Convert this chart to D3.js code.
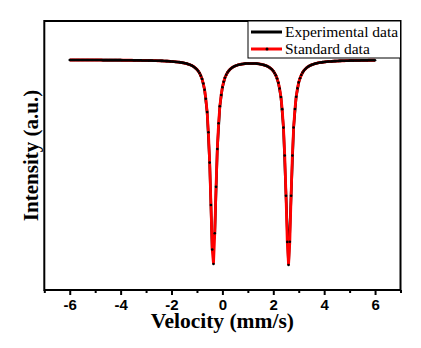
<!DOCTYPE html>
<html>
<head>
<meta charset="utf-8">
<script src="https://cdn.jsdelivr.net/npm/d3@7"></script>
<style>
  body { margin: 0; background: #fff; }
  svg { display: block; }
</style>
</head>
<body>
<div id="chart"></div>
<script>
// tick labels and legend names
const majorTicks = [-6, -4, -2, 0, 2, 4, 6]
const minorTicks = [-7, -5, -3, -1, 1, 3, 5, 7]
const seriesNames = ['Experimental data', 'Standard data']

// standard data: channels every 0.05 mm/s from -6 to 6
const standardVelocity = d3.range(241).map(i => -6 + i * 0.05)
const standardIntensity = [
  0.9998, 0.9998, 0.9998, 0.9998, 0.9998, 0.9998, 0.9998, 0.9998, 0.9998, 0.9998,
  0.9998, 0.9998, 0.9998, 0.9998, 0.9998, 0.9998, 0.9998, 0.9998, 0.9998, 0.9998,
  0.9998, 0.9998, 0.9998, 0.9998, 0.9998, 0.9998, 0.9997, 0.9997, 0.9997, 0.9997,
  0.9997, 0.9997, 0.9997, 0.9997, 0.9997, 0.9997, 0.9997, 0.9997, 0.9997, 0.9997,
  0.9997, 0.9996, 0.9996, 0.9996, 0.9996, 0.9996, 0.9996, 0.9996, 0.9996, 0.9996,
  0.9995, 0.9995, 0.9995, 0.9995, 0.9995, 0.9995, 0.9995, 0.9994, 0.9994, 0.9994,
  0.9994, 0.9994, 0.9993, 0.9993, 0.9993, 0.9993, 0.9992, 0.9992, 0.9992, 0.9991,
  0.9991, 0.9991, 0.9990, 0.9990, 0.9989, 0.9989, 0.9988, 0.9988, 0.9987, 0.9986,
  0.9985, 0.9984, 0.9983, 0.9982, 0.9981, 0.9980, 0.9979, 0.9977, 0.9975, 0.9973,
  0.9971, 0.9969, 0.9966, 0.9962, 0.9959, 0.9954, 0.9949, 0.9943, 0.9935, 0.9926,
  0.9915, 0.9901, 0.9884, 0.9861, 0.9832, 0.9791, 0.9736, 0.9657, 0.9540, 0.9363,
  0.9096, 0.8723, 0.8332, 0.8205, 0.8475, 0.8883, 0.9215, 0.9442, 0.9591, 0.9690,
  0.9758, 0.9807, 0.9842, 0.9868, 0.9888, 0.9904, 0.9916, 0.9926, 0.9934, 0.9940,
  0.9946, 0.9950, 0.9954, 0.9957, 0.9959, 0.9962, 0.9963, 0.9965, 0.9966, 0.9967,
  0.9967, 0.9968, 0.9968, 0.9968, 0.9968, 0.9967, 0.9967, 0.9966, 0.9965, 0.9963,
  0.9961, 0.9959, 0.9956, 0.9953, 0.9949, 0.9945, 0.9939, 0.9932, 0.9924, 0.9914,
  0.9901, 0.9884, 0.9863, 0.9836, 0.9798, 0.9747, 0.9673, 0.9566, 0.9404, 0.9158,
  0.8804, 0.8399, 0.8196, 0.8400, 0.8804, 0.9158, 0.9405, 0.9567, 0.9675, 0.9749,
  0.9801, 0.9838, 0.9866, 0.9888, 0.9904, 0.9917, 0.9928, 0.9937, 0.9944, 0.9950,
  0.9955, 0.9959, 0.9963, 0.9966, 0.9969, 0.9972, 0.9974, 0.9976, 0.9977, 0.9979,
  0.9980, 0.9982, 0.9983, 0.9984, 0.9985, 0.9985, 0.9986, 0.9987, 0.9988, 0.9988,
  0.9989, 0.9989, 0.9990, 0.9990, 0.9991, 0.9991, 0.9991, 0.9992, 0.9992, 0.9992,
  0.9993, 0.9993, 0.9993, 0.9993, 0.9994, 0.9994, 0.9994, 0.9994, 0.9994, 0.9995,
  0.9995, 0.9995, 0.9995, 0.9995, 0.9995, 0.9996, 0.9996, 0.9996, 0.9996, 0.9996,
  0.9996
]

// experimental data: channels every 0.1 mm/s from -6 to 6
const experimentalVelocity = d3.range(121).map(i => -6 + i * 0.1)
const experimentalIntensity = [
  0.9998, 0.9998, 0.9998, 0.9998, 0.9998, 0.9998, 0.9998, 0.9998, 0.9998, 0.9998,
  0.9998, 0.9998, 0.9998, 0.9997, 0.9997, 0.9997, 0.9997, 0.9997, 0.9997, 0.9997,
  0.9997, 0.9996, 0.9996, 0.9996, 0.9996, 0.9995, 0.9995, 0.9995, 0.9995, 0.9994,
  0.9994, 0.9993, 0.9993, 0.9992, 0.9992, 0.9991, 0.9990, 0.9989, 0.9988, 0.9987,
  0.9985, 0.9983, 0.9981, 0.9979, 0.9975, 0.9971, 0.9966, 0.9959, 0.9949, 0.9935,
  0.9915, 0.9884, 0.9832, 0.9736, 0.9540, 0.9096, 0.8332, 0.8475, 0.9215, 0.9591,
  0.9758, 0.9842, 0.9888, 0.9916, 0.9934, 0.9946, 0.9954, 0.9959, 0.9963, 0.9966,
  0.9967, 0.9968, 0.9968, 0.9967, 0.9965, 0.9961, 0.9956, 0.9949, 0.9939, 0.9924,
  0.9901, 0.9863, 0.9798, 0.9673, 0.9404, 0.8804, 0.8196, 0.8804, 0.9405, 0.9675,
  0.9801, 0.9866, 0.9904, 0.9928, 0.9944, 0.9955, 0.9963, 0.9969, 0.9974, 0.9977,
  0.9980, 0.9983, 0.9985, 0.9986, 0.9988, 0.9989, 0.9990, 0.9991, 0.9991, 0.9992,
  0.9993, 0.9993, 0.9994, 0.9994, 0.9994, 0.9995, 0.9995, 0.9995, 0.9996, 0.9996,
  0.9996
]

const svgWidth = 421
const svgHeight = 348
const margin = {top: 21, right: 20.5, bottom: 58, left: 44.3}
const width = svgWidth - margin.left - margin.right
const height = svgHeight - margin.top - margin.bottom

const svg = d3.select('#chart').append('svg')
  .attr('width', svgWidth)
  .attr('height', svgHeight)

const g = svg.append('g')
  .attr('transform', 'translate(' + margin.left + ',' + margin.top + ')')

const x = d3.scaleLinear().domain([-7, 7]).range([0, width])
const y = d3.scaleLinear().domain([0.7976, 1.0341]).range([height, 0])

const standard = standardVelocity.map((v, i) => ({v: v, value: standardIntensity[i]}))
const experimental = experimentalVelocity.map((v, i) => ({v: v, value: experimentalIntensity[i]}))

const line = d3.line()
  .x(d => x(d.v))
  .y(d => y(d.value))

// minor ticks
g.append('g')
  .attr('transform', 'translate(0,' + height + ')')
  .call(d3.axisBottom(x).tickValues(minorTicks).tickSize(3).tickFormat(''))
  .call(a => a.select('.domain').remove())
  .call(a => a.selectAll('line').attr('stroke-width', 2))

// major ticks
const xAxis = g.append('g')
  .attr('transform', 'translate(0,' + height + ')')
  .call(d3.axisBottom(x).tickValues(majorTicks).tickSize(5).tickPadding(4)
    .tickFormat(d => String(d)))
xAxis.select('.domain').remove()
xAxis.selectAll('line').attr('stroke-width', 2)
xAxis.selectAll('text')
  .attr('fill', '#000')
  .style('font-family', '"Liberation Sans", Arial, sans-serif')
  .style('font-weight', 'bold')
  .style('font-size', '15px')

// data
g.append('path')
  .datum(experimental)
  .attr('fill', 'none')
  .attr('stroke', '#000')
  .attr('stroke-width', 2.6)
  .attr('d', line)

g.append('path')
  .datum(standard)
  .attr('fill', 'none')
  .attr('stroke', '#ff0000')
  .attr('stroke-width', 2.8)
  .attr('d', line)

g.selectAll('.dot')
  .data(standard)
  .enter().append('circle')
  .attr('class', 'dot')
  .attr('cx', d => x(d.v))
  .attr('cy', d => y(d.value))
  .attr('r', 1.3)
  .attr('fill', '#000')

// frame
g.append('rect')
  .attr('width', width)
  .attr('height', height)
  .attr('fill', 'none')
  .attr('stroke', '#000')
  .attr('stroke-width', 2)

// legend
const legendW = 152.5
const legend = g.append('g')
  .attr('transform', 'translate(' + (width - legendW) + ',0)')
legend.append('rect')
  .attr('width', legendW)
  .attr('height', 37)
  .attr('fill', '#fff')
  .attr('stroke', '#000')
  .attr('stroke-width', 1)

const rows = legend.selectAll('.row')
  .data(seriesNames)
  .enter().append('g')
  .attr('transform', (d, i) => 'translate(0,' + (11 + i * 17) + ')')
rows.append('line')
  .attr('x1', 3)
  .attr('x2', 34)
  .attr('stroke', (d, i) => i === 0 ? '#000' : '#ff0000')
  .attr('stroke-width', 3)
rows.filter((d, i) => i === 1).append('circle')
  .attr('cx', 19)
  .attr('r', 1.5)
  .attr('fill', '#000')
rows.append('text')
  .attr('x', 37)
  .attr('dy', '0.35em')
  .style('font-family', '"Liberation Serif", "Times New Roman", serif')
  .style('font-size', '15.5px')
  .text(d => d)

// axis titles
g.append('text')
  .attr('x', width / 2)
  .attr('y', height + 38)
  .attr('text-anchor', 'middle')
  .style('font-family', '"Liberation Serif", "Times New Roman", serif')
  .style('font-weight', 'bold')
  .style('font-size', '21.5px')
  .text('Velocity (mm/s)')

g.append('text')
  .attr('transform', 'translate(-6,' + (height / 2) + ') rotate(-90)')
  .attr('text-anchor', 'middle')
  .style('font-family', '"Liberation Serif", "Times New Roman", serif')
  .style('font-weight', 'bold')
  .style('font-size', '21px')
  .text('Intensity (a.u.)')
</script>
</body>
</html>
